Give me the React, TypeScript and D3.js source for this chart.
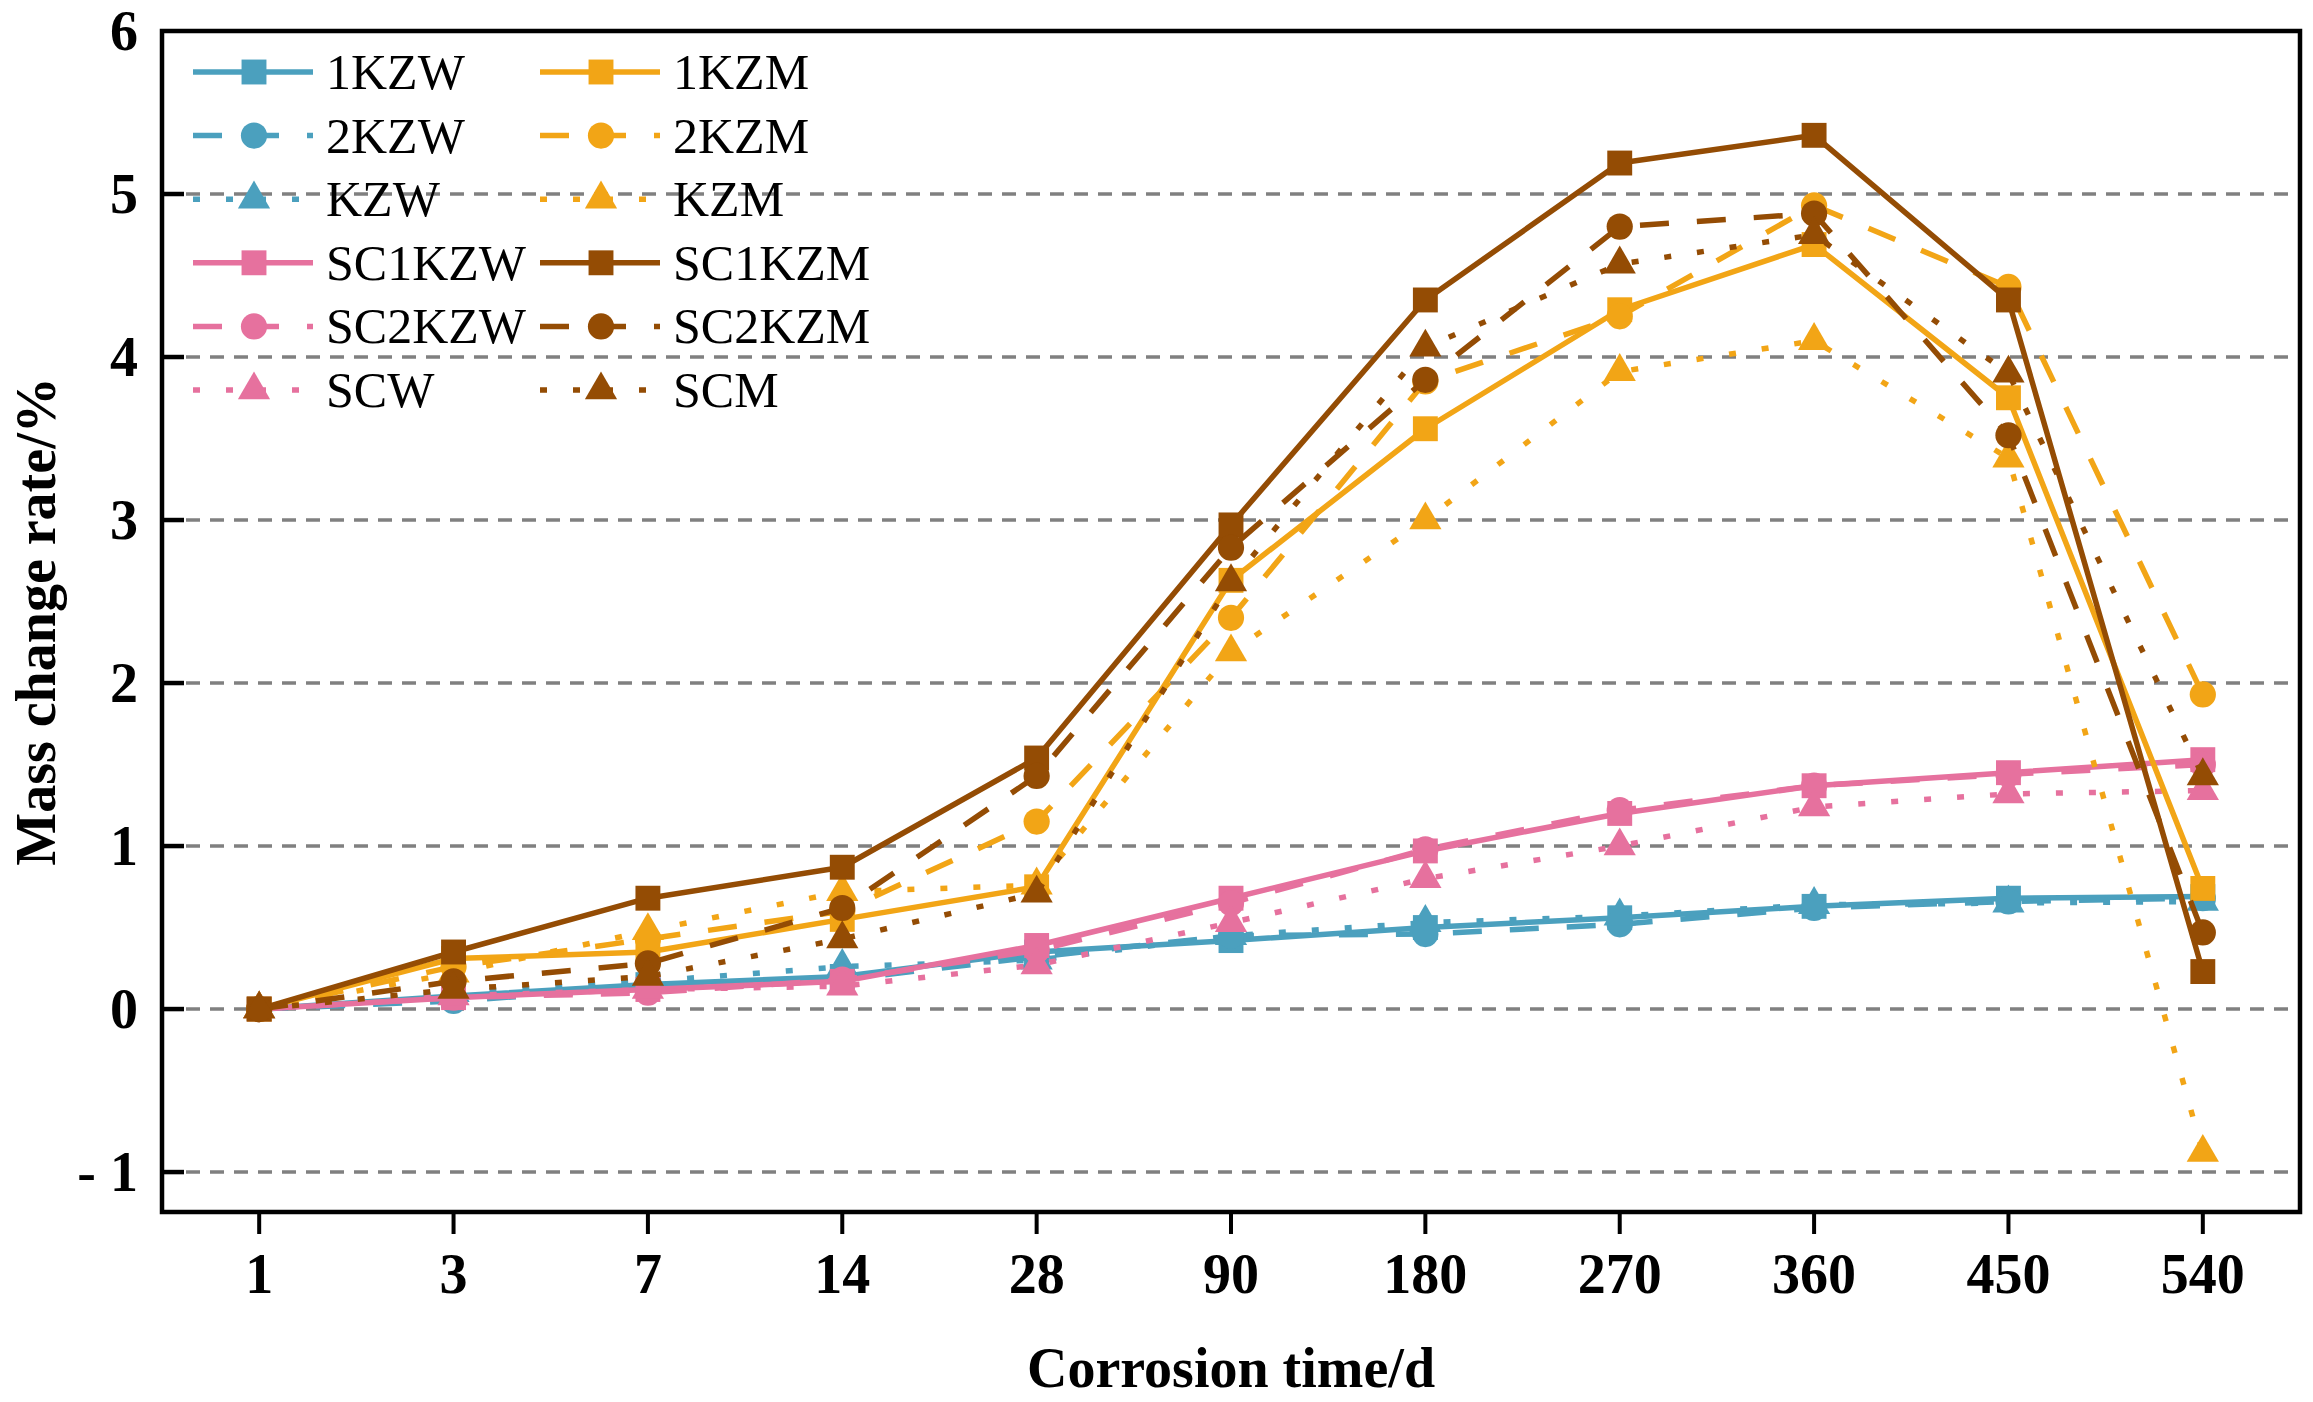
import React from "react";
import * as d3 from "d3";

// corrosion time categories (days)
const days = ["1", "3", "7", "14", "28", "90", "180", "270", "360", "450", "540"];
const yTicks = [-1, 0, 1, 2, 3, 4, 5, 6];

// mass change rate (%) per specimen
const kzw1 = [0, 0.08, 0.15, 0.2, 0.35, 0.42, 0.5, 0.56, 0.63, 0.68, 0.69];
const kzw2 = [0, 0.05, 0.13, 0.18, 0.32, 0.45, 0.46, 0.52, 0.62, 0.66, 0.68];
const kzw = [0, 0.1, 0.17, 0.26, 0.3, 0.45, 0.53, 0.57, 0.64, 0.65, 0.66];
const sc1kzw = [0, 0.07, 0.12, 0.17, 0.39, 0.68, 0.97, 1.2, 1.37, 1.45, 1.53];
const sc2kzw = [0, 0.07, 0.1, 0.18, 0.36, 0.65, 0.98, 1.22, 1.37, 1.44, 1.5];
const scw = [0, 0.08, 0.12, 0.14, 0.27, 0.53, 0.8, 1.0, 1.24, 1.32, 1.34];
const kzm1 = [0, 0.31, 0.35, 0.55, 0.75, 2.63, 3.56, 4.29, 4.69, 3.75, 0.74];
const kzm2 = [0, 0.26, 0.43, 0.6, 1.15, 2.4, 3.85, 4.25, 4.93, 4.43, 1.93];
const kzm = [0, 0.22, 0.48, 0.72, 0.76, 2.19, 3.0, 3.91, 4.1, 3.38, -0.88];
const sc1kzm = [0, 0.35, 0.68, 0.87, 1.54, 2.97, 4.35, 5.19, 5.36, 4.35, 0.23];
const sc2kzm = [0, 0.17, 0.28, 0.62, 1.43, 2.83, 3.86, 4.8, 4.88, 3.52, 0.47];
const scm = [0, 0.12, 0.2, 0.43, 0.71, 2.62, 4.06, 4.57, 4.75, 3.9, 1.43];

const BLUE = "#4BA0BE";
const PINK = "#E6719E";
const ORANGE = "#F2A516";
const BROWN = "#944C04";

// line styles
const DASH = { solid: "none", dash: "29,28", dot: "7,26" };

const series = [
  { name: "1KZW", values: kzw1, color: BLUE, style: "solid", shape: "square" },
  { name: "2KZW", values: kzw2, color: BLUE, style: "dash", shape: "circle" },
  { name: "KZW", values: kzw, color: BLUE, style: "dot", shape: "triangle" },
  { name: "SC1KZW", values: sc1kzw, color: PINK, style: "solid", shape: "square" },
  { name: "SC2KZW", values: sc2kzw, color: PINK, style: "dash", shape: "circle" },
  { name: "SCW", values: scw, color: PINK, style: "dot", shape: "triangle" },
  { name: "1KZM", values: kzm1, color: ORANGE, style: "solid", shape: "square" },
  { name: "2KZM", values: kzm2, color: ORANGE, style: "dash", shape: "circle" },
  { name: "KZM", values: kzm, color: ORANGE, style: "dot", shape: "triangle" },
  { name: "SC1KZM", values: sc1kzm, color: BROWN, style: "solid", shape: "square" },
  { name: "SC2KZM", values: sc2kzm, color: BROWN, style: "dash", shape: "circle" },
  { name: "SCM", values: scm, color: BROWN, style: "dot", shape: "triangle" },
];

const W = 2313;
const H = 1402;
const left = 162, right = 2300, top = 31, bottom = 1212;
const FONT = "'Liberation Serif', 'Times New Roman', serif";

const symbolPath = {
  square: d3.symbol().type(d3.symbolSquare).size(620)(),
  circle: d3.symbol().type(d3.symbolCircle).size(540)(),
  triangle: d3.symbol().type(d3.symbolTriangle).size(450)(),
};

export default function App() {
  const x = d3.scalePoint().domain(days).range([left, right]).padding(0.5);
  const y = d3.scaleLinear().domain([-1.245, 6]).range([bottom, top]);
  const line = d3
    .line<number>()
    .x((_, i) => x(days[i]) as number)
    .y((d) => y(d));

  // legend: two columns, six rows
  const legendRows = 6;
  const legX = [193, 540];
  const legY0 = 72, legDy = 63.6;

  return (
    <svg
      width={W}
      height={H}
      style={{ position: "absolute", left: 0, top: 0, background: "#fff" }}
    >
      <rect x={0} y={0} width={W} height={H} fill="#fff" />

      {/* grid lines */}
      {yTicks
        .filter((t) => t < 6)
        .map((t) => (
          <line
            key={"g" + t}
            x1={left}
            x2={right}
            y1={y(t)}
            y2={y(t)}
            stroke="#808080"
            strokeWidth={3.5}
            strokeDasharray="14,10"
          />
        ))}

      {/* series */}
      {series.map((s) => (
        <g key={s.name}>
          <path
            d={line(s.values) as string}
            fill="none"
            stroke={s.color}
            strokeWidth={5.5}
            strokeDasharray={DASH[s.style]}
            strokeLinejoin="round"
          />
          {s.values.map((v, i) => (
            <path
              key={i}
              d={symbolPath[s.shape]}
              transform={`translate(${x(days[i])},${y(v)})`}
              fill={s.color}
            />
          ))}
        </g>
      ))}

      {/* legend */}
      {series.map((s, k) => {
        const col = Math.floor(k / legendRows);
        const row = k % legendRows;
        const lx = legX[col];
        const ly = legY0 + row * legDy;
        return (
          <g key={"leg" + s.name}>
            <line
              x1={lx}
              x2={lx + 120}
              y1={ly}
              y2={ly}
              stroke={s.color}
              strokeWidth={5.5}
              strokeDasharray={DASH[s.style]}
            />
            <path d={symbolPath[s.shape]} transform={`translate(${lx + 61},${ly})`} fill={s.color} />
            <text x={lx + 133} y={ly + 17} fontFamily={FONT} fontSize={50} fill="#000">
              {s.name}
            </text>
          </g>
        );
      })}

      {/* frame */}
      <rect
        x={left}
        y={top}
        width={right - left}
        height={bottom - top}
        fill="none"
        stroke="#000"
        strokeWidth={4.5}
      />

      {/* y axis ticks (inward) and labels */}
      {yTicks.map((t) => (
        <g key={"y" + t}>
          {t < 6 && (
            <line x1={left} x2={left + 22} y1={y(t)} y2={y(t)} stroke="#000" strokeWidth={4.5} />
          )}
          <text
            x={138}
            y={y(t)}
            dy="0.34em"
            textAnchor="end"
            fontFamily={FONT}
            fontWeight="bold"
            fontSize={56}
          >
            {t < 0 ? "- " + Math.abs(t) : String(t)}
          </text>
        </g>
      ))}

      {/* x axis ticks (outward) and labels */}
      {days.map((d) => (
        <g key={"x" + d}>
          <line x1={x(d)} x2={x(d)} y1={bottom} y2={bottom + 22} stroke="#000" strokeWidth={4} />
          <text
            x={x(d)}
            y={1293}
            textAnchor="middle"
            fontFamily={FONT}
            fontWeight="bold"
            fontSize={56}
          >
            {d}
          </text>
        </g>
      ))}

      {/* axis titles */}
      <text
        x={(left + right) / 2}
        y={1387}
        textAnchor="middle"
        fontFamily={FONT}
        fontWeight="bold"
        fontSize={56}
      >
        Corrosion time/d
      </text>
      <text
        transform={`translate(55,${(top + bottom) / 2}) rotate(-90)`}
        textAnchor="middle"
        fontFamily={FONT}
        fontWeight="bold"
        fontSize={56}
      >
        Mass change rate/%
      </text>
    </svg>
  );
}
